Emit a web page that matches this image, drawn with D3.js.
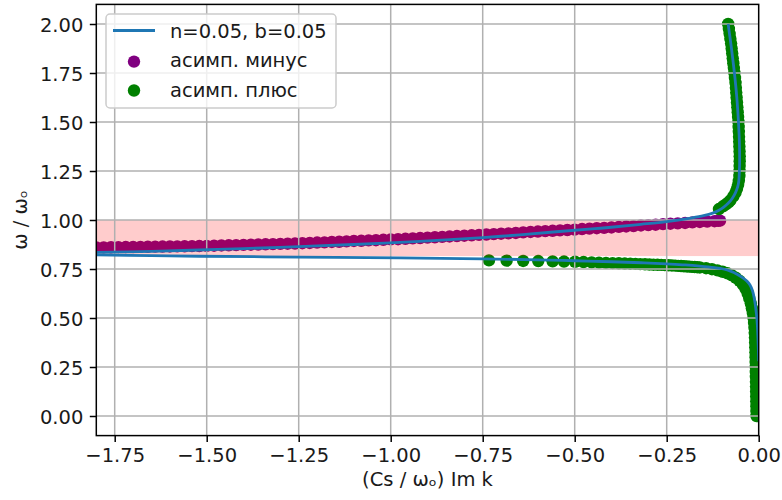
<!DOCTYPE html>
<html>
<head>
<meta charset="utf-8">
<script src="https://cdn.jsdelivr.net/npm/d3@7"></script>
<style>
  html, body { margin: 0; padding: 0; background: #fff; }
  svg { display: block; font-family: "DejaVu Sans", sans-serif; }
</style>
</head>
<body>
<svg id="chart" width="782" height="500"></svg>
<script>
// Axis ticks
const xTicks = [-1.75, -1.5, -1.25, -1.0, -0.75, -0.5, -0.25, 0.0];
const xTickLabels = ["\u22121.75", "\u22121.50", "\u22121.25", "\u22121.00", "\u22120.75", "\u22120.50", "\u22120.25", "0.00"];
const yTicks = [0, 0.25, 0.5, 0.75, 1.0, 1.25, 1.5, 1.75, 2.0];
const yTickLabels = ["0.00", "0.25", "0.50", "0.75", "1.00", "1.25", "1.50", "1.75", "2.00"];

// Shaded frequency band (ω / ωₒ)
const bandLow = 0.816;
const bandHigh = 1.0;

// Solution n=0.05, b=0.05 : branch through the band and up to ω=2
const curveUpperX = [-1.80, -1.65, -1.52, -1.40, -1.25, -1.10, -0.975, -0.85, -0.70, -0.55, -0.43, -0.32, -0.25, -0.185, -0.15, -0.125, -0.108, -0.095, -0.083, -0.072, -0.063, -0.057, -0.054, -0.0525, -0.0518, -0.0525, -0.055, -0.0595, -0.066, -0.074, -0.083];
const curveUpperW = [0.835, 0.840, 0.847, 0.854, 0.864, 0.875, 0.886, 0.899, 0.917, 0.940, 0.958, 0.978, 0.992, 1.010, 1.022, 1.035, 1.050, 1.066, 1.085, 1.110, 1.140, 1.170, 1.200, 1.250, 1.300, 1.400, 1.500, 1.625, 1.750, 1.875, 2.000];

// Solution n=0.05, b=0.05 : branch below the band down to the axis
const curveLowerX = [-1.80, -1.65, -1.52, -1.25, -0.975, -0.75, -0.60, -0.50, -0.40, -0.32, -0.25, -0.20, -0.16, -0.12, -0.096, -0.075, -0.06, -0.043, -0.033, -0.024, -0.017, -0.012, -0.008, -0.005, -0.002, 0.0];
const curveLowerW = [0.822, 0.818, 0.815, 0.811, 0.807, 0.802, 0.797, 0.792, 0.787, 0.782, 0.776, 0.771, 0.765, 0.757, 0.750, 0.738, 0.725, 0.705, 0.690, 0.670, 0.640, 0.600, 0.550, 0.500, 0.400, 0.280];

// Asymptote "минус"
const minusX = [-1.80, -1.78, -1.76, -1.74, -1.72, -1.70, -1.68, -1.66, -1.64, -1.62, -1.60, -1.58, -1.56, -1.54, -1.52,
  -1.50, -1.48, -1.46, -1.44, -1.42, -1.40, -1.38, -1.36, -1.34, -1.32, -1.30, -1.28, -1.26,
  -1.24, -1.22, -1.20, -1.18, -1.16, -1.14, -1.12, -1.10, -1.08, -1.06, -1.04, -1.02, -1.00, -0.98,
  -0.96, -0.94, -0.92, -0.90, -0.88, -0.86, -0.84, -0.82, -0.80, -0.78, -0.76, -0.74, -0.72, -0.70,
  -0.68, -0.66, -0.64, -0.62, -0.60, -0.58, -0.56, -0.54, -0.52, -0.50, -0.48, -0.46, -0.44, -0.42,
  -0.40, -0.38, -0.36, -0.34, -0.32, -0.30, -0.28, -0.26, -0.24,
  -0.22, -0.20, -0.18, -0.16, -0.14, -0.12, -0.11, -0.105];
const minusW = [0.860, 0.8605, 0.861, 0.8615, 0.862, 0.8625, 0.863, 0.8635, 0.864, 0.8645, 0.865, 0.8655, 0.866, 0.8665, 0.867,
  0.868, 0.869, 0.870, 0.871, 0.872, 0.873, 0.874, 0.875, 0.876, 0.877, 0.878, 0.879, 0.880,
  0.8815, 0.883, 0.885, 0.886, 0.888, 0.889, 0.891, 0.893, 0.894, 0.896, 0.897, 0.899, 0.901, 0.902,
  0.904, 0.906, 0.908, 0.910, 0.912, 0.914, 0.916, 0.918, 0.920, 0.922, 0.924, 0.926, 0.928, 0.930,
  0.932, 0.934, 0.937, 0.939, 0.941, 0.943, 0.945, 0.947, 0.949, 0.951, 0.954, 0.956, 0.958, 0.960,
  0.962, 0.965, 0.967, 0.969, 0.972, 0.974, 0.976, 0.979, 0.981,
  0.983, 0.985, 0.988, 0.990, 0.992, 0.994, 0.996, 0.997];

// Asymptote "плюс", upper part (above the band)
const plusUpperX = [-0.108, -0.097, -0.089, -0.082, -0.077, -0.069, -0.063, -0.059, -0.056, -0.054, -0.0525, -0.052, -0.0518, -0.0516, -0.0516, -0.052, -0.0525, -0.053, -0.0535, -0.054, -0.0545, -0.055, -0.056, -0.057, -0.058, -0.059, -0.060, -0.061, -0.062, -0.063, -0.0645, -0.066, -0.0675, -0.069, -0.0705, -0.072, -0.0735, -0.075, -0.077, -0.079, -0.081, -0.083];
const plusUpperW = [1.056, 1.07, 1.08, 1.09, 1.10, 1.12, 1.14, 1.16, 1.18, 1.20, 1.225, 1.25, 1.275, 1.30, 1.325, 1.35, 1.375, 1.40, 1.425, 1.45, 1.475, 1.50, 1.525, 1.55, 1.575, 1.60, 1.625, 1.65, 1.675, 1.70, 1.725, 1.75, 1.775, 1.80, 1.825, 1.85, 1.875, 1.90, 1.925, 1.95, 1.975, 2.00];

// Asymptote "плюс", lower part (below the band)
const plusLowerX = [-0.0060, -0.0062, -0.0064, -0.0066, -0.0068, -0.0070, -0.0072, -0.0074, -0.0076, -0.0078, -0.0080, -0.0083, -0.0086, -0.0089, -0.0093, -0.0097, -0.0102, -0.0108, -0.0115, -0.0125, -0.0140, -0.0160, -0.0185, -0.0215, -0.0255, -0.030, -0.036, -0.043, -0.052, -0.062, -0.073, -0.085, -0.098, -0.112, -0.127, -0.143,
  -0.160, -0.167, -0.174, -0.181, -0.188, -0.195, -0.203, -0.211, -0.219, -0.227, -0.236, -0.245, -0.255, -0.265, -0.275, -0.286, -0.297, -0.309, -0.322, -0.335, -0.349, -0.364, -0.380, -0.397, -0.415, -0.434, -0.454, -0.476, -0.499, -0.529, -0.560, -0.599, -0.640, -0.685, -0.733];
const plusLowerW = [0.000, 0.025, 0.050, 0.075, 0.100, 0.125, 0.150, 0.175, 0.200, 0.225, 0.250, 0.275, 0.300, 0.325, 0.350, 0.375, 0.400, 0.425, 0.450, 0.475, 0.500, 0.525, 0.550, 0.575, 0.600, 0.625, 0.650, 0.670, 0.690, 0.705, 0.718, 0.728, 0.736, 0.743, 0.749, 0.754,
  0.758, 0.759, 0.760, 0.761, 0.762, 0.763, 0.764, 0.765, 0.766, 0.767, 0.768, 0.769, 0.770, 0.771, 0.7715, 0.772, 0.773, 0.774, 0.775, 0.776, 0.777, 0.778, 0.779, 0.780, 0.781, 0.7825, 0.784, 0.7855, 0.787, 0.788, 0.789, 0.7905, 0.791, 0.7925, 0.794];

const seriesNames = ["n=0.05, b=0.05", "асимп. минус", "асимп. плюс"];

// ---- drawing ----
const svg = d3.select("#chart");
const plot = { left: 96.3, right: 758.7, top: 4.4, bottom: 435.6 };
const FONT = 19.5;

const x = d3.scaleLinear().domain([-1.8, 0.0]).range([plot.left, plot.right]);
const y = d3.scaleLinear().domain([-0.1, 2.1]).range([plot.bottom, plot.top]);

const colors = { line: "#1f77b4", minus: "#800080", plus: "#008000" };
const dotR = 6.2;

svg.append("defs").append("clipPath").attr("id", "plotClip")
  .append("rect")
  .attr("x", plot.left).attr("y", plot.top)
  .attr("width", plot.right - plot.left).attr("height", plot.bottom - plot.top);

const inner = svg.append("g").attr("clip-path", "url(#plotClip)");

const zip = (xs, ws) => xs.map((v, i) => [v, ws[i]]);

// scatter points
function dots(data, color) {
  inner.append("g").selectAll("circle").data(data).join("circle")
    .attr("cx", d => x(d[0])).attr("cy", d => y(d[1]))
    .attr("r", dotR).attr("fill", color);
}
dots(zip(minusX, minusW), colors.minus);
dots(zip(plusUpperX, plusUpperW), colors.plus);
dots(zip(plusLowerX, plusLowerW), colors.plus);

// shaded band
inner.append("rect")
  .attr("x", plot.left).attr("width", plot.right - plot.left)
  .attr("y", y(bandHigh)).attr("height", y(bandLow) - y(bandHigh))
  .attr("fill", "red").attr("fill-opacity", 0.2);

// grid
const grid = inner.append("g").attr("stroke", "#b0b0b0").attr("stroke-width", 1.5);
grid.selectAll("line.gx").data(xTicks).join("line").attr("class", "gx")
  .attr("x1", d => x(d)).attr("x2", d => x(d)).attr("y1", plot.top).attr("y2", plot.bottom);
grid.selectAll("line.gy").data(yTicks).join("line").attr("class", "gy")
  .attr("y1", d => y(d)).attr("y2", d => y(d)).attr("x1", plot.left).attr("x2", plot.right);

// curve branches
const lineGen = d3.line().x(d => x(d[0])).y(d => y(d[1])).curve(d3.curveCatmullRom.alpha(0.5));
[zip(curveUpperX, curveUpperW), zip(curveLowerX, curveLowerW)].forEach(branch => {
  inner.append("path").datum(branch).attr("d", lineGen)
    .attr("fill", "none").attr("stroke", colors.line).attr("stroke-width", 2.8)
    .attr("stroke-linejoin", "round");
});

// axes
const xAxis = d3.axisBottom(x).tickValues(xTicks)
  .tickFormat((d, i) => xTickLabels[i]).tickSize(6.5).tickPadding(6.5);
const yAxis = d3.axisLeft(y).tickValues(yTicks)
  .tickFormat((d, i) => yTickLabels[i]).tickSize(6.5).tickPadding(6.5);

const gx = svg.append("g").attr("transform", `translate(0,${plot.bottom})`).call(xAxis);
const gy = svg.append("g").attr("transform", `translate(${plot.left},0)`).call(yAxis);
[gx, gy].forEach(g => {
  g.select(".domain").remove();
  g.selectAll(".tick line").attr("stroke", "#000").attr("stroke-width", 1.5);
  g.selectAll(".tick text").attr("fill", "#1a1a1a")
    .style("font-family", "'DejaVu Sans', sans-serif").style("font-size", FONT + "px");
});
gy.selectAll(".tick text").attr("dy", "0.36em");

// spines
svg.append("rect")
  .attr("x", plot.left).attr("y", plot.top)
  .attr("width", plot.right - plot.left).attr("height", plot.bottom - plot.top)
  .attr("fill", "none").attr("stroke", "#000").attr("stroke-width", 1.5);

// axis titles
svg.append("text")
  .attr("x", (plot.left + plot.right) / 2).attr("y", 486)
  .attr("text-anchor", "middle").attr("fill", "#1a1a1a")
  .style("font-size", FONT + "px")
  .text("(Cs / ωₒ) Im k");
svg.append("text")
  .attr("transform", `translate(27,${(plot.top + plot.bottom) / 2}) rotate(-90)`)
  .attr("text-anchor", "middle").attr("fill", "#1a1a1a")
  .style("font-size", FONT + "px")
  .text("ω / ωₒ");

// legend
const lg = svg.append("g");
lg.append("rect")
  .attr("x", 106).attr("y", 14).attr("width", 230).attr("height", 94).attr("rx", 4)
  .attr("fill", "#fff").attr("fill-opacity", 0.8)
  .attr("stroke", "#cccccc").attr("stroke-width", 1.5);
const rows = [37.5, 67, 96.5];
lg.append("line").attr("x1", 113).attr("x2", 155).attr("y1", 30.5).attr("y2", 30.5)
  .attr("stroke", colors.line).attr("stroke-width", 2.8);
lg.append("circle").attr("cx", 134).attr("cy", 61.6).attr("r", dotR).attr("fill", colors.minus);
lg.append("circle").attr("cx", 134).attr("cy", 90.5).attr("r", dotR).attr("fill", colors.plus);
lg.selectAll("text").data(seriesNames).join("text")
  .attr("x", 170).attr("y", (d, i) => rows[i])
  .attr("fill", "#1a1a1a").style("font-size", FONT + "px")
  .text(d => d);
</script>
</body>
</html>
